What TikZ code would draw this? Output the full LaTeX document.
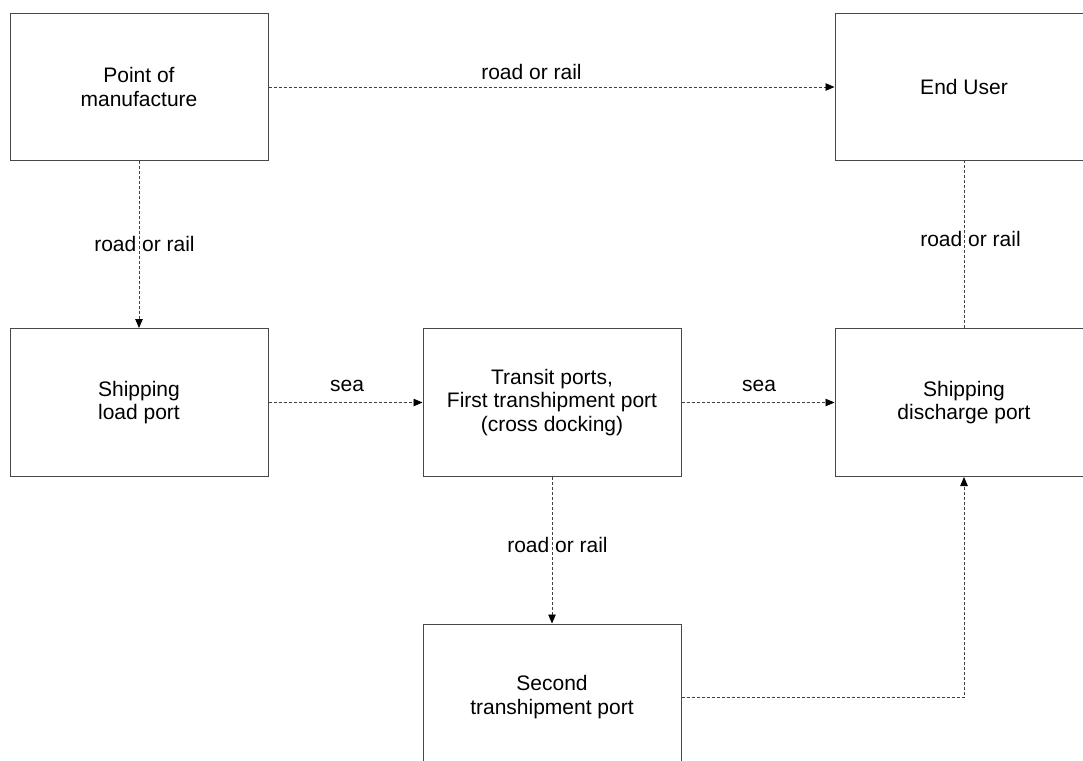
\documentclass[tikz,border=0pt]{standalone}
\usepackage{fontspec}
\setmainfont{Liberation Sans}
\usetikzlibrary{arrows.meta}
\begin{document}
\begin{tikzpicture}[x=1pt,y=-1pt,
  box/.style={draw=black!72, line width=1pt, minimum width=258pt, minimum height=146pt,
    inner sep=0pt, align=center, font=\fontsize{21}{23.5}\selectfont},
  conn/.style={draw=black!75, line width=0.8pt, dash pattern=on 3pt off 2pt},
  flow/.style={conn, -{Triangle[length=9pt,width=7.5pt,color=black]}},
  lbl/.style={inner sep=0pt, font=\fontsize{21}{23.5}\selectfont}]
\useasboundingbox (0,0) rectangle (1083,760);
\begin{scope}
\clip (0,0) rectangle (1083,760);
\node[box] (pom) at (139,87) {Point of\\manufacture};
\node[box] (eu) at (964,87) {End User};
\node[box, minimum height=148pt] (slp) at (139,402.5) {Shipping\\load port};
\node[box, minimum height=148pt] (tp) at (552,402.5) {Transit ports,\\First transhipment port\\(cross docking)};
\node[box, minimum height=148pt] (sdp) at (964,402.5) {Shipping\\discharge port};
\node[box] (stp) at (552,697) {Second\\transhipment port};

\draw[flow] (pom) -- (eu);
\draw[flow] (pom) -- (slp);
\draw[conn] (sdp) -- (eu);
\draw[flow] (slp) -- (tp);
\draw[flow] (tp) -- (sdp);
\draw[flow] (tp) -- (stp);
\draw[flow] (stp.east) -| (sdp.south);

\node[lbl] (l1) at (531.5,72) {road or rail};
\node[lbl] (l2) at (144.5,244) {road or rail};
\node[lbl] (l3) at (970.5,239) {road or rail};
\node[lbl] (l4) at (347,386) {sea};
\node[lbl] (l5) at (759,386) {sea};
\node[lbl] (l6) at (557.5,545) {road or rail};
\end{scope}
\end{tikzpicture}
\end{document}
